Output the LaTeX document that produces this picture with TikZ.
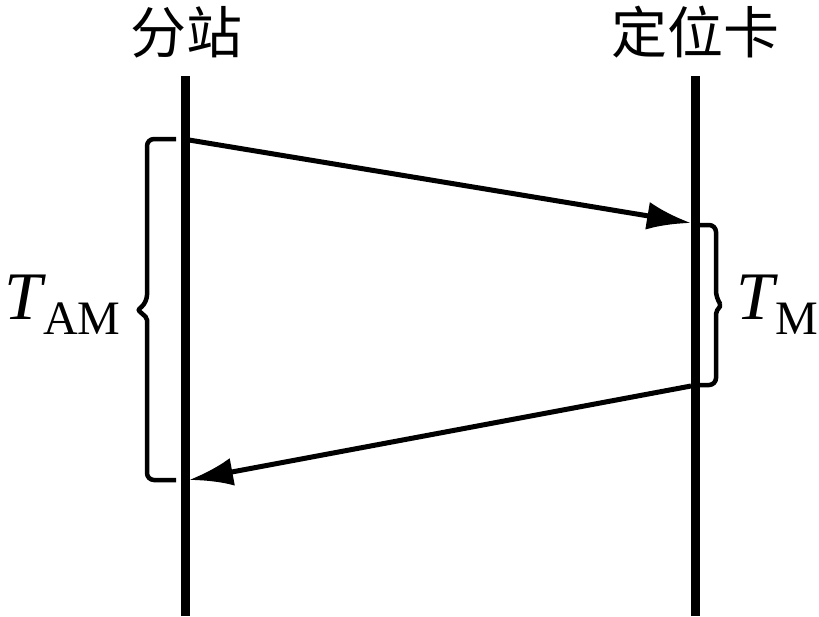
\documentclass[tikz,border=0pt]{standalone}
\usepackage{fontspec}
\setmainfont{Liberation Serif}
\newfontfamily\cjk{Noto Sans CJK SC}
\usetikzlibrary{arrows.meta,positioning}

\tikzset{
  lifeline/.style={line width=9pt},
  msg/.style={line width=5pt,-{Latex[length=44pt,width=28pt]}},
  bracket/.style={line width=4.5pt,rounded corners=7pt},
  station/.style={font=\cjk\fontsize{56}{56}\selectfont,inner sep=0pt},
  timelabel/.style={inner sep=0pt}
}
\newcommand{\timesym}[1]{\fontsize{68}{68}\selectfont\textit{T}\kern-3pt\raisebox{-15pt}{\fontsize{48}{48}\selectfont #1}}

\begin{document}
\begin{tikzpicture}[x=1pt,y=-1pt]
				\useasboundingbox (0,0) rectangle (819,616);
				% lifelines
				\coordinate (st top) at (185,76);
				\coordinate (st bot) at (185,616);
				\coordinate (card top) at (695,76);
				\coordinate (card bot) at (695,616);
				\draw [lifeline] (st top) -- (st bot);
				\draw [lifeline] (card top) -- (card bot);
				\node [station] (st) at (186,32) {分站};
				\node [station] (card) at (695,32) {定位卡};
				% messages
				\coordinate (send) at (189,140);
				\coordinate (recv) at (691,223);
				\coordinate (reply) at (691,386);
				\coordinate (back) at (189,480);
				\draw [msg] (send) -- (recv);
				\draw [msg] (reply) -- (back);
				% brackets
				\draw [bracket] (176,139) -- (147,139) -- (147,302) [rounded corners=2pt] -- (138,310) -- (147,318) [rounded corners=7pt] -- (147,480) -- (176,480);
				\draw [bracket] (700,225) -- (716,225) -- (716,298) [rounded corners=2pt] -- (721,305) -- (716,312) [rounded corners=7pt] -- (716,385) -- (700,385);
				\node [timelabel, anchor=west] (tam) at (4,305) {\timesym{AM}};
				\node [timelabel, anchor=west] (tm) at (736,305) {\timesym{M}};
				\end{tikzpicture}
\end{document}
